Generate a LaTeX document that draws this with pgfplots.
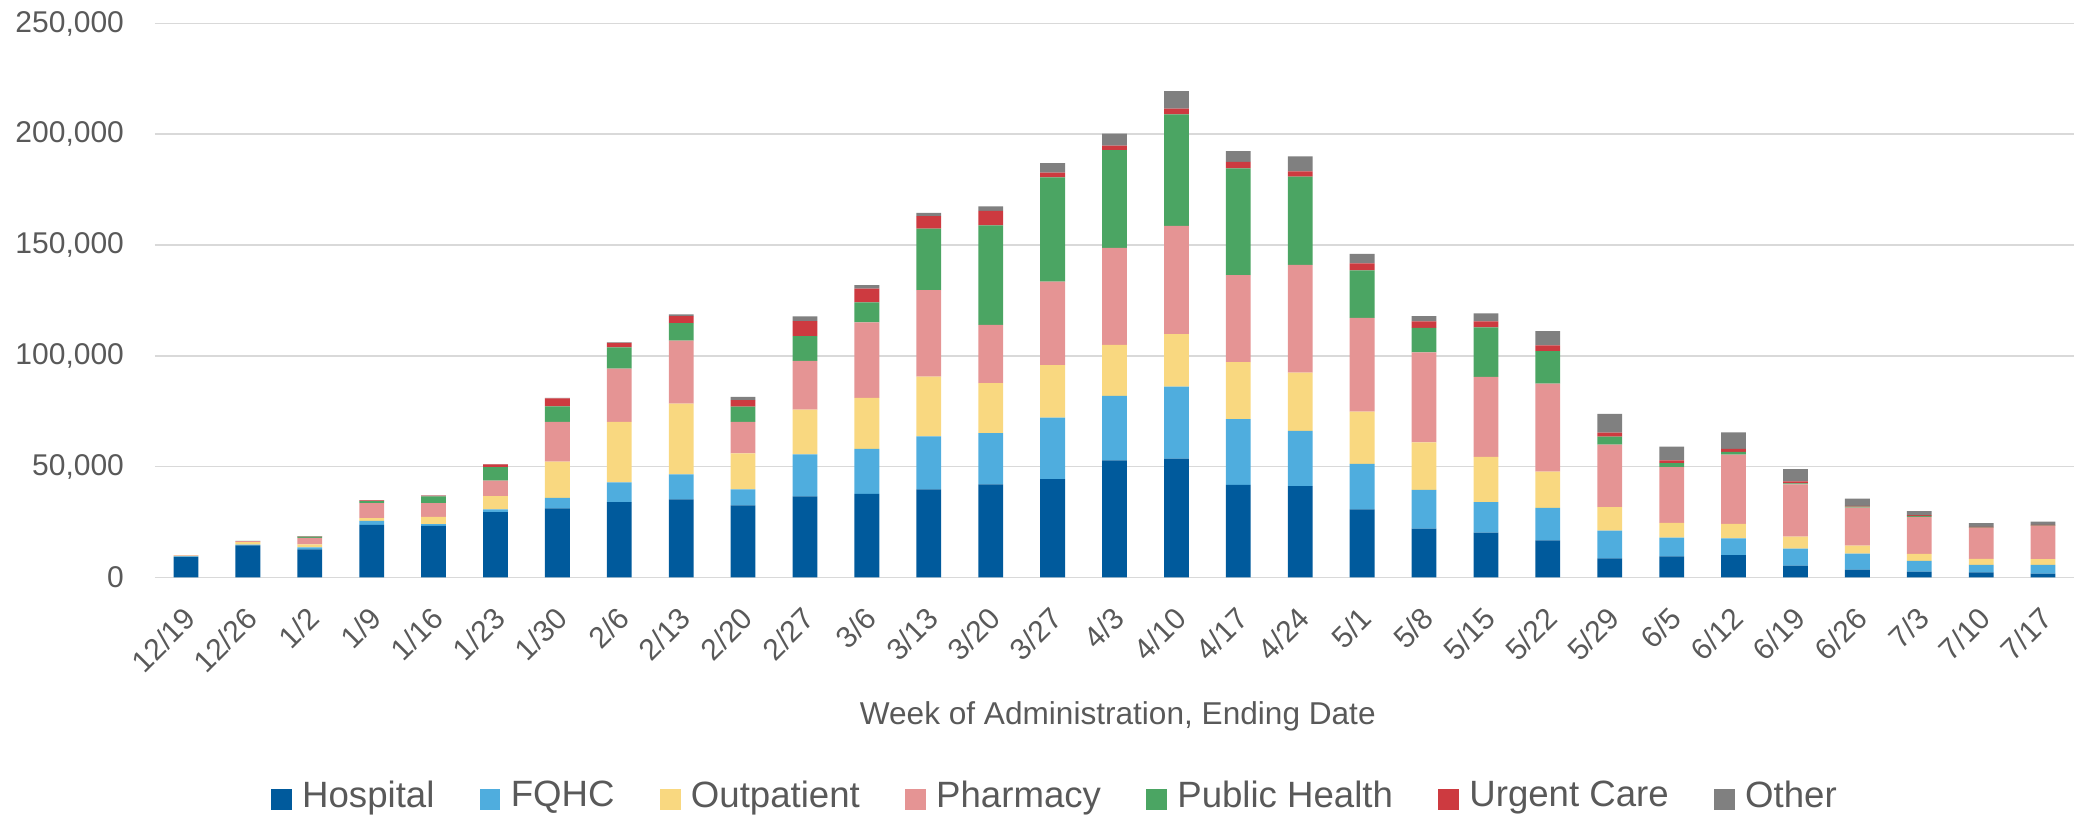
\documentclass[border=0pt]{standalone}
\usepackage{fontspec}
\setmainfont{Liberation Sans}
\usepackage{pgfplots}
\usepackage{pgfplotstable}
\pgfplotsset{compat=1.18}
\definecolor{cHosp}{HTML}{005A9C}
\definecolor{cFQHC}{HTML}{4FADDE}
\definecolor{cOut}{HTML}{F9D880}
\definecolor{cPharm}{HTML}{E59494}
\definecolor{cPH}{HTML}{4BA563}
\definecolor{cUC}{HTML}{CD3A40}
\definecolor{cOther}{HTML}{808080}
\definecolor{txt}{HTML}{595959}
\definecolor{gridc}{HTML}{D9D9D9}

\pgfplotstableread{
x H F O P PH UC Ot
0 9300 200 400 200 0 0 0
1 14500 300 1200 400 100 0 0
2 12700 900 1300 3000 600 100 100
3 23800 1700 1300 6800 900 300 100
4 23300 800 3300 6200 3000 400 100
5 29500 1200 6000 7000 6100 1300 100
6 31200 4700 16400 17900 7000 3600 200
7 34000 8900 27300 24100 9600 2000 200
8 35200 11300 32000 28400 7900 3100 800
9 32500 7300 16200 14200 6900 2900 1500
10 36600 19000 20200 21900 11200 6800 2100
11 37700 20300 23000 34100 9100 6200 1500
12 39800 23900 27000 39000 27700 5700 1400
13 42000 23100 22600 26300 44900 6500 2100
14 44400 27700 23700 37700 47100 2100 4300
15 52800 29200 23000 43700 44200 2000 5400
16 53600 32500 23700 48900 50300 2600 7900
17 41800 29700 25700 39300 48100 2900 4900
18 41200 25000 26200 48700 39800 2400 6700
19 30700 20600 23600 42300 21400 3100 4300
20 22100 17400 21500 40600 11100 2900 2400
21 20300 13700 20400 36100 22400 2700 3600
22 16700 14700 16400 39700 14700 2600 6400
23 8600 12600 10500 28300 3600 1800 8400
24 9500 8500 6700 25100 1800 1300 6200
25 10100 7600 6500 31300 1200 1300 7500
26 5400 7600 5400 23600 500 900 5500
27 3500 7300 3600 17100 500 300 3300
28 2700 4800 3200 16600 500 300 1900
29 2300 3400 2700 14000 100 300 1700
30 1800 3900 2600 15000 100 300 1500
}\data

\begin{document}
\begin{tikzpicture}
\begin{axis}[
  name=ax, at={(0pt,0pt)}, anchor=south west,
  width=959.5pt, height=277pt, scale only axis,
  ybar stacked, bar width=12.4pt,
  xmin=-0.5, xmax=30.5, ymin=0, ymax=250000,
  xtick={0,...,30},
  xticklabels={12/19,12/26,1/2,1/9,1/16,1/23,1/30,2/6,2/13,2/20,2/27,3/6,3/13,3/20,3/27,4/3,4/10,4/17,4/24,5/1,5/8,5/15,5/22,5/29,6/5,6/12,6/19,6/26,7/3,7/10,7/17},
  ytick={0,50000,100000,150000,200000,250000},
  scaled y ticks=false,
  yticklabel={\pgfmathprintnumber[fixed, 1000 sep={,}, assume math mode=true]{\tick}},
  ymajorgrids, major grid style={draw=gridc, line width=0.8pt},
  axis line style={draw=none}, major tick length=0pt, tick style={draw=none},
  yticklabel style={font=\fontsize{15}{18}\selectfont, text=txt, xshift=-12pt},
  xticklabel style={font=\fontsize{15}{18}\selectfont, text=txt, xshift=-1.9pt, yshift=-9.1pt, rotate=45, anchor=north east},
  xlabel={Week of Administration, Ending Date},
  xlabel style={font=\fontsize{15.8}{19}\selectfont, text=txt, at={(axis description cs:0.5017,0)}, anchor=center, yshift=-69.5pt},
  legend columns=7,
  legend style={draw=none, fill=none, at={(axis description cs:0.4695,0)}, anchor=center, yshift=-109pt,
    font=\fontsize{18.3}{22}\selectfont, text=txt,
    /tikz/every even column/.append style={column sep=20.7pt}},
  legend image code/.code={\draw[#1, draw=none] (0pt,-7.1pt) rectangle (10.3pt,3.2pt); \path (13.5pt,0pt);},
]
\addplot[fill=cHosp, draw=none] table[x=x, y=H]{\data};
\addplot[fill=cFQHC, draw=none] table[x=x, y=F]{\data};
\addplot[fill=cOut, draw=none] table[x=x, y=O]{\data};
\addplot[fill=cPharm, draw=none] table[x=x, y=P]{\data};
\addplot[fill=cPH, draw=none] table[x=x, y=PH]{\data};
\addplot[fill=cUC, draw=none] table[x=x, y=UC]{\data};
\addplot[fill=cOther, draw=none] table[x=x, y=Ot]{\data};
\legend{Hospital, FQHC, Outpatient, Pharmacy, Public Health, Urgent Care, Other}
\end{axis}
\pgfresetboundingbox
\path[use as bounding box] ([shift={(-77.5pt,-119.5pt)}]ax.south west) rectangle ([shift={(0pt,11.75pt)}]ax.north east);
\end{tikzpicture}
\end{document}
